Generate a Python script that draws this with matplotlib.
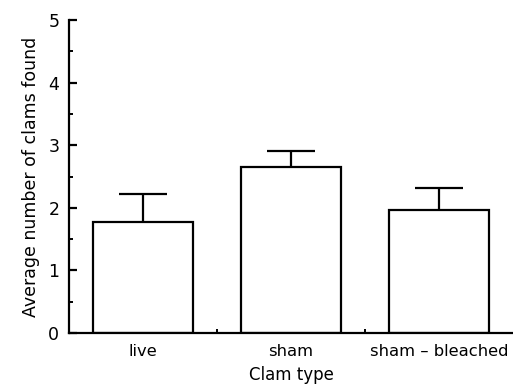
import matplotlib
matplotlib.use("Agg")
import matplotlib.pyplot as plt
from matplotlib.ticker import MultipleLocator, FixedLocator

categories = ["live", "sham", "sham – bleached"]
means = [1.78, 2.65, 1.97]
errors = [0.44, 0.26, 0.34]
yticks = [0, 1, 2, 3, 4, 5]

plt.rcParams['font.family'] = ['DejaVu Sans']

fig = plt.figure(figsize=(5.13, 3.91), dpi=100)
ax = fig.add_axes([0.1345, 0.148, 0.8655, 0.801])

x = list(range(len(categories)))
ax.bar(x, means, width=0.68, color='white', edgecolor='black', linewidth=1.6, zorder=2)
eb = ax.errorbar(x, means, yerr=[[0]*len(errors), errors], fmt='none', ecolor='black',
                 elinewidth=1.6, capsize=17, capthick=1.6, zorder=3)
# keep only the upper caps
if len(eb[1]) == 2:
    eb[1][0].set_visible(False)

ax.set_xlim(-0.5, 2.5)
ax.set_ylim(0, 5)
ax.set_xticks(x)
ax.set_xticklabels(categories, fontsize=11.8)
ax.set_yticks(yticks)
ax.set_yticklabels([str(t) for t in yticks], fontsize=12.5)
ax.yaxis.set_minor_locator(MultipleLocator(0.5))
ax.xaxis.set_minor_locator(FixedLocator([0.5, 1.5]))

for s in ['top', 'right']:
    ax.spines[s].set_visible(False)
for s in ['left', 'bottom']:
    ax.spines[s].set_linewidth(1.6)

ax.tick_params(axis='y', which='major', direction='in', length=6, width=1.6, pad=7)
ax.tick_params(axis='y', which='minor', direction='in', length=3, width=1.4)
ax.tick_params(axis='x', which='major', length=0, pad=8)
ax.tick_params(axis='x', which='minor', direction='in', length=3, width=1.4)

ax.set_xlabel("Clam type", fontsize=12, labelpad=5)
ax.set_ylabel("Average number of clams found", fontsize=12.5, labelpad=6)

fig.savefig("out.png", dpi=100)
